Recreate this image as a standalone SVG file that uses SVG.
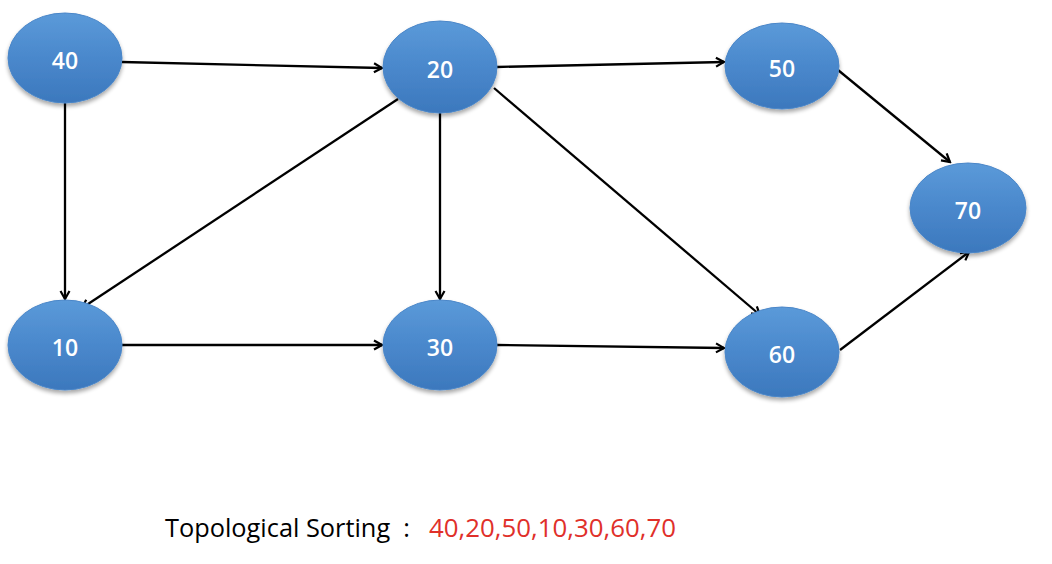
<svg xmlns="http://www.w3.org/2000/svg" width="1052" height="564" viewBox="0 0 1052 564">
<defs>
<linearGradient id="g" x1="0" y1="0" x2="0" y2="1">
<stop offset="0" stop-color="#5b9ad9"/>
<stop offset="0.5" stop-color="#4a88cc"/>
<stop offset="1" stop-color="#3c78bd"/>
</linearGradient>
<filter id="sh" x="-20%" y="-20%" width="140%" height="150%">
<feGaussianBlur in="SourceAlpha" stdDeviation="2"/>
<feOffset dx="0" dy="3"/>
<feComponentTransfer><feFuncA type="linear" slope="0.35"/></feComponentTransfer>
<feMerge><feMergeNode/><feMergeNode in="SourceGraphic"/></feMerge>
</filter>
<marker id="arr" markerWidth="12" markerHeight="12" refX="10" refY="6" orient="auto" markerUnits="userSpaceOnUse">
<polyline points="2,1.5 10,6 2,10.5" fill="none" stroke="#000" stroke-width="2.2"/>
</marker>
</defs>
<style>
.n ellipse{fill:url(#g);stroke:#4a86c8;stroke-width:1;filter:url(#sh)}
.n text{fill:#fff;font-family:"Open Sans","Liberation Sans",sans-serif;font-size:23px;font-weight:600;text-anchor:middle;dominant-baseline:central}
.e line{stroke:#000;stroke-width:2.3;marker-end:url(#arr)}
.t{font-family:"Open Sans","Liberation Sans",sans-serif;font-size:25px}
</style>
<rect width="1052" height="564" fill="#fff"/>
<g id="edges" class="e">
<line x1="122" y1="62" x2="382" y2="68"/>
<line x1="65" y1="102" x2="65" y2="299"/>
<line x1="398" y1="99" x2="82" y2="308"/>
<line x1="440" y1="112" x2="440" y2="299"/>
<line x1="497" y1="67" x2="724" y2="62"/>
<line x1="494" y1="88" x2="760" y2="315"/>
<line x1="122" y1="345" x2="382" y2="345"/>
<line x1="497" y1="345" x2="724" y2="348"/>
<line x1="838" y1="70" x2="950" y2="162"/>
<line x1="840" y1="350" x2="969" y2="252"/>
</g>
<g id="n40" class="n"><ellipse cx="65" cy="58" rx="57" ry="45"/><text x="65" y="60">40</text></g>
<g id="n20" class="n"><ellipse cx="440" cy="67" rx="57" ry="46"/><text x="440" y="69">20</text></g>
<g id="n50" class="n"><ellipse cx="782" cy="66" rx="57" ry="43"/><text x="782" y="68">50</text></g>
<g id="n70" class="n"><ellipse cx="968" cy="208" rx="58" ry="45"/><text x="968" y="210">70</text></g>
<g id="n10" class="n"><ellipse cx="65" cy="345" rx="57" ry="45"/><text x="65" y="347">10</text></g>
<g id="n30" class="n"><ellipse cx="440" cy="345" rx="57" ry="45"/><text x="440" y="347">30</text></g>
<g id="n60" class="n"><ellipse cx="782" cy="352" rx="57" ry="45"/><text x="782" y="354">60</text></g>
<text class="t" x="165" y="537" fill="#000" textLength="245" lengthAdjust="spacingAndGlyphs" xml:space="preserve">Topological Sorting  :</text>
<text class="t" x="429" y="537" fill="#e0302a" textLength="247" lengthAdjust="spacingAndGlyphs">40,20,50,10,30,60,70</text>
</svg>
